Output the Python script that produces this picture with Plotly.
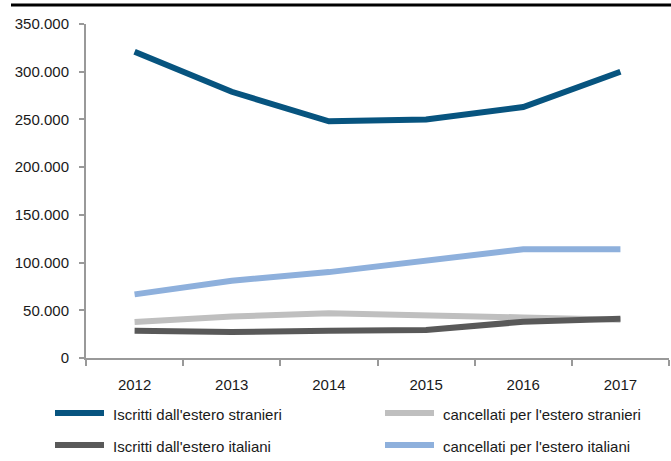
import plotly.graph_objects as go

years = ["2012", "2013", "2014", "2015", "2016", "2017"]
iscritti_stranieri = [321000, 279000, 248000, 250000, 263000, 300000]
cancellati_stranieri = [37700, 43500, 47000, 44000, 42500, 40000]
iscritti_italiani = [28600, 27300, 28500, 29300, 38000, 41000]
cancellati_italiani = [66700, 81000, 90000, 101500, 114000, 114000]

names = ["Iscritti dall'estero stranieri", "cancellati per l'estero stranieri",
         "Iscritti dall'estero italiani", "cancellati per l'estero italiani"]
colors = ["#07547f", "#bfbfbf", "#595959", "#8eb0dc"]
series = [iscritti_stranieri, cancellati_stranieri, iscritti_italiani, cancellati_italiani]

y_ticks = [0, 50000, 100000, 150000, 200000, 250000, 300000, 350000]

W, H = 671, 461
L, R, T, B = 86, 2, 24, 103
pw, ph = W - L - R, H - T - B

fig = go.Figure()
draw_order = [3, 1, 2, 0]
for i in draw_order:
    fig.add_trace(go.Scatter(x=years, y=series[i], name=names[i], mode="lines",
                             line=dict(color=colors[i], width=6), showlegend=False,
                             hoverinfo="skip"))

font = dict(family="Liberation Sans, Arial, sans-serif", size=15, color="#1a1a1a")

def px_x(p):
    return (p - L) / pw

def px_y(p):
    return (H - B - p) / ph

shapes = [dict(type="line", xref="paper", yref="paper", x0=px_x(11), x1=px_x(671),
               y0=px_y(5), y1=px_y(5), line=dict(color="black", width=3))]
annotations = []
leg_pos = [(52, 413), (382, 413), (52, 445), (382, 445)]
for i, (lx, ly) in enumerate(leg_pos):
    shapes.append(dict(type="line", xref="paper", yref="paper", x0=px_x(lx + 3), x1=px_x(lx + 52),
                       y0=px_y(ly), y1=px_y(ly), line=dict(color=colors[i], width=6)))
    annotations.append(dict(xref="paper", yref="paper", x=px_x(lx + 59), y=px_y(ly + 1),
                            text=names[i], showarrow=False, xanchor="left", yanchor="middle",
                            font=font))

fig.update_layout(
    width=W, height=H, margin=dict(l=L, r=R, t=T, b=B),
    paper_bgcolor="white", plot_bgcolor="white",
    separators=",.", font=font, shapes=shapes, annotations=annotations,
    showlegend=False,
)
fig.update_xaxes(type="category", showgrid=False, showline=True, linecolor="#999999", linewidth=2,
                 ticks="outside", ticklen=6, tickcolor="#999999", tickwidth=2,
                 tickson="boundaries", ticklabelstandoff=12, tickfont=font, range=[-0.5, 5.5])
fig.update_yaxes(range=[0, 350000], tickvals=y_ticks, tickformat=",.0f", showgrid=False,
                 zeroline=False, showline=True, linecolor="#999999", linewidth=2,
                 ticks="outside", ticklen=5, tickcolor="#999999", tickwidth=2,
                 ticklabelstandoff=7, tickfont=font)

fig.write_html("out.html", config={"displayModeBar": False},
               post_script="document.body.style.margin='0';")
